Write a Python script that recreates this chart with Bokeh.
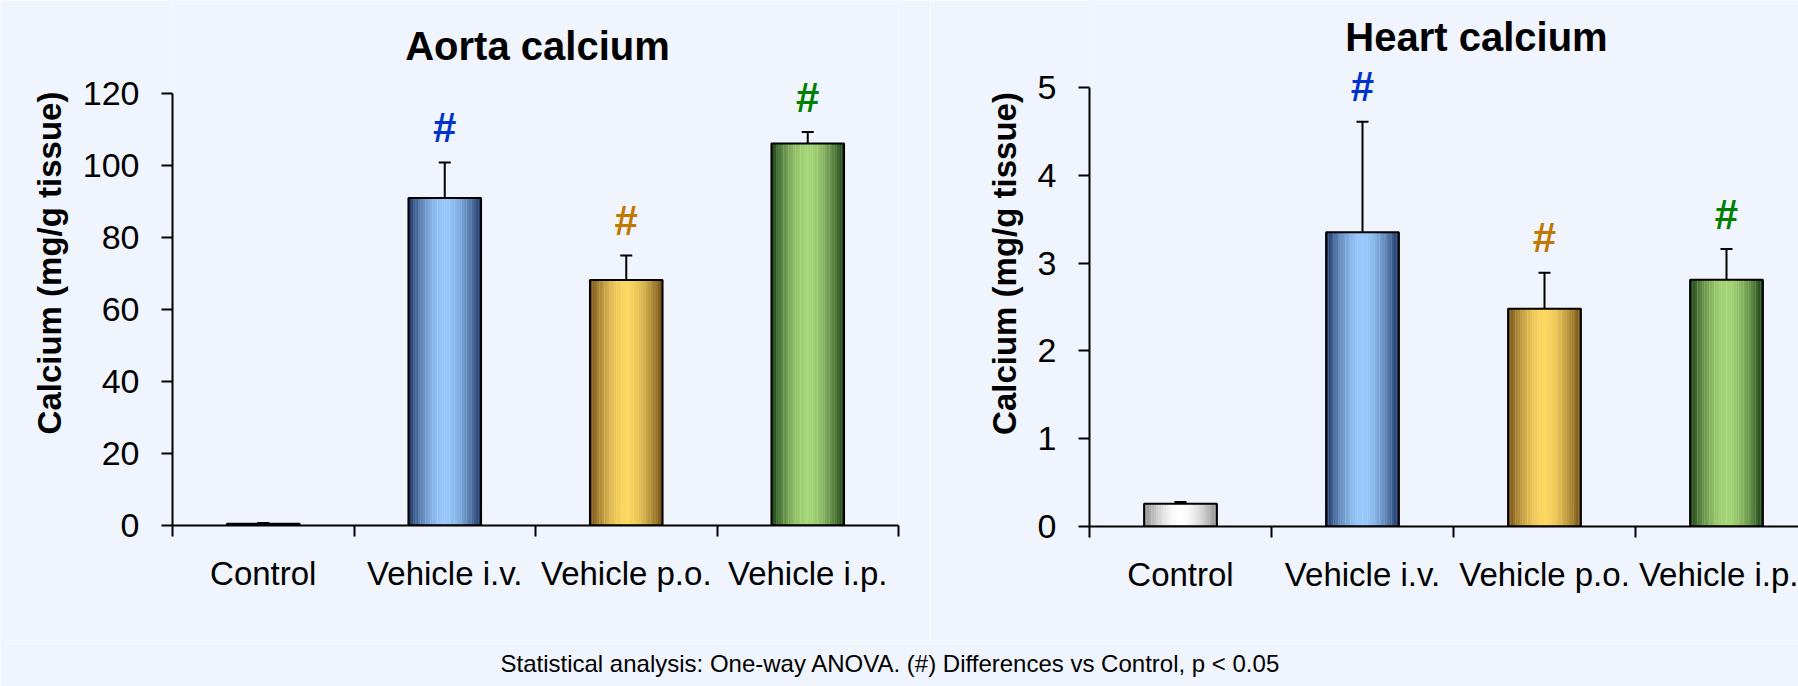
import numpy as np
from bokeh.plotting import figure
from bokeh.models import (ColumnDataSource, Range1d, FixedTicker, Whisker, TeeHead, Label, LabelSet)
from bokeh.layouts import row, column
from bokeh.core.properties import value
from bokeh.embed import file_html
from bokeh.resources import INLINE

# ---------------- data ----------------
categories = ["Control", "Vehicle i.v.", "Vehicle p.o.", "Vehicle i.p."]
aorta_mean = [0.5, 91.0, 68.2, 106.1]
aorta_sem = [0.2, 9.8, 6.8, 3.2]
heart_mean = [0.26, 3.35, 2.48, 2.81]
heart_sem = [0.02, 1.26, 0.41, 0.35]
significant = [False, True, True, True]
aorta_ticks = [0, 20, 40, 60, 80, 100, 120]
heart_ticks = [0, 1, 2, 3, 4, 5]
aorta_title = "Aorta calcium"
heart_title = "Heart calcium"
y_label = "Calcium (mg/g tissue)"
footnote = "Statistical analysis: One-way ANOVA. (#) Differences vs Control, p < 0.05"

# ---------------- style ----------------
BG = "#f0f4fc"
FONT = "Liberation Sans"
edge_colors = ["#8c8c8c", "#18305f", "#6e4a10", "#173d12"]
light_colors = ["#ffffff", "#96c8fc", "#fdd65e", "#a4d574"]
hash_colors = ["#000000", "#0033cc", "#c07800", "#008000"]
BAR_W = 0.40
N_STRIPS = 30
ROW_H = 640


def hex2rgb(h):
    h = h.lstrip("#")
    return np.array([int(h[i:i + 2], 16) for i in (0, 2, 4)], dtype=float)


def rgb2hex(c):
    c = np.clip(np.round(c), 0, 255).astype(int)
    return "#%02x%02x%02x" % tuple(c)


def make_chart(title, means, sems, ticks, base_px, axis_px, frame_w,
               left_border, right_border, x_end, title_px, title_dx):
    """base_px: pixel row of the value axis baseline from the top of the figure;
    axis_px: pixel length of the value axis; title_px: pixel row of title centre."""
    n = len(categories)
    centers = [i + 0.5 for i in range(n)]
    per_px = (ticks[-1] - ticks[0]) / axis_px
    y_view_end = ticks[0] + base_px * per_px
    p = figure(frame_width=frame_w, frame_height=base_px,
               min_border_left=left_border, min_border_right=right_border,
               min_border_top=0, min_border_bottom=ROW_H - base_px,
               x_range=Range1d(0, x_end), y_range=Range1d(ticks[0], y_view_end),
               toolbar_location=None, output_backend="svg")
    p.background_fill_color = BG
    p.border_fill_color = BG
    p.outline_line_color = None
    p.grid.visible = False

    # gradient strips
    xs, tops, cols = [], [], []
    sw = BAR_W / N_STRIPS
    for i in range(n):
        e = hex2rgb(edge_colors[i])
        l = hex2rgb(light_colors[i])
        for k in range(N_STRIPS):
            t = (k + 0.5) / N_STRIPS
            f = 1 - abs(2 * t - 1) ** 1.8
            xs.append(centers[i] - BAR_W / 2 + (k + 0.5) * sw)
            tops.append(means[i])
            cols.append(rgb2hex(e + (l - e) * f))
    strips = ColumnDataSource(dict(x=xs, top=tops, color=cols))
    p.vbar(x="x", top="top", bottom=0, width=sw * 1.08, fill_color="color",
           line_color=None, source=strips)

    src = ColumnDataSource(dict(x=centers, top=means,
                                upper=[m + s for m, s in zip(means, sems)],
                                cat=categories))
    p.vbar(x="x", top="top", bottom=0, width=BAR_W, fill_alpha=0,
           line_color="black", line_width=2, source=src)
    p.add_layout(Whisker(source=src, base="x", upper="upper", lower="top",
                         lower_head=None,
                         upper_head=TeeHead(size=12, line_width=2, line_color="black"),
                         line_width=2, line_color="black"))

    sig_idx = [i for i in range(n) if significant[i]]
    hsrc = ColumnDataSource(dict(x=[centers[i] for i in sig_idx],
                                 y=[means[i] + sems[i] for i in sig_idx],
                                 c=[hash_colors[i] for i in sig_idx],
                                 t=["#"] * len(sig_idx)))
    p.add_layout(LabelSet(x="x", y="y", text="t", text_color="c", source=hsrc,
                          text_font=value(FONT), text_font_style="bold",
                          text_font_size=value("42px"), text_align="center",
                          text_baseline="middle", y_offset=35))

    # chart title (inside the canvas, above the axis)
    p.add_layout(Label(x=n / 2, y=ticks[0] + (base_px - title_px) * per_px,
                       x_offset=title_dx, text=title, text_font=FONT,
                       text_font_style="bold", text_font_size="40px",
                       text_color="black", text_align="center",
                       text_baseline="middle"))

    # axes
    xa = p.xaxis[0]
    xa.ticker = FixedTicker(ticks=centers, minor_ticks=list(range(n + 1)))
    xa.major_label_overrides = {c: name for c, name in zip(centers, categories)}
    xa.major_tick_line_color = None
    xa.minor_tick_line_color = "black"
    xa.minor_tick_line_width = 2
    xa.minor_tick_out = 11
    xa.minor_tick_in = 0
    xa.axis_line_width = 2
    xa.axis_line_color = "black"
    xa.major_label_text_font = FONT
    xa.major_label_text_font_size = "33px"
    xa.major_label_text_color = "black"
    xa.major_label_standoff = 18

    ya = p.yaxis[0]
    ya.ticker = FixedTicker(ticks=ticks, minor_ticks=[])
    ya.bounds = (ticks[0], ticks[-1])
    ya.axis_line_width = 2
    ya.axis_line_color = "black"
    ya.major_tick_line_width = 2
    ya.major_tick_line_color = "black"
    ya.major_tick_out = 11
    ya.major_tick_in = 0
    ya.minor_tick_line_color = None
    ya.major_label_text_font = FONT
    ya.major_label_text_font_size = "34px"
    ya.major_label_text_color = "black"
    ya.major_label_standoff = 22
    ya.axis_label = y_label
    ya.axis_label_text_font = FONT
    ya.axis_label_text_font_style = "bold"
    ya.axis_label_text_font_size = "33px"
    ya.axis_label_text_color = "black"
    ya.axis_label_standoff = 12
    return p


p1 = make_chart(aorta_title, aorta_mean, aorta_sem, aorta_ticks,
                base_px=525, axis_px=432, frame_w=726,
                left_border=172, right_border=32, x_end=4.0,
                title_px=45, title_dx=2)
p2 = make_chart(heart_title, heart_mean, heart_sem, heart_ticks,
                base_px=526, axis_px=439, frame_w=709,
                left_border=159, right_border=0, x_end=709 / 182.0,
                title_px=36, title_dx=23)

p3 = figure(width=1798, height=686 - ROW_H, x_range=Range1d(0, 1), y_range=Range1d(0, 1),
            toolbar_location=None, output_backend="svg",
            min_border_left=0, min_border_right=0, min_border_top=0, min_border_bottom=0)
p3.axis.visible = False
p3.grid.visible = False
p3.outline_line_color = None
p3.background_fill_color = BG
p3.border_fill_color = BG
p3.add_layout(Label(x=0.495, y=0.5, text=footnote, text_align="center",
                    text_baseline="middle", text_font=FONT,
                    text_font_size="24px", text_color="black"))

layout = column(row(p1, p2), p3)
open("out.html", "w").write(file_html(layout, INLINE))
